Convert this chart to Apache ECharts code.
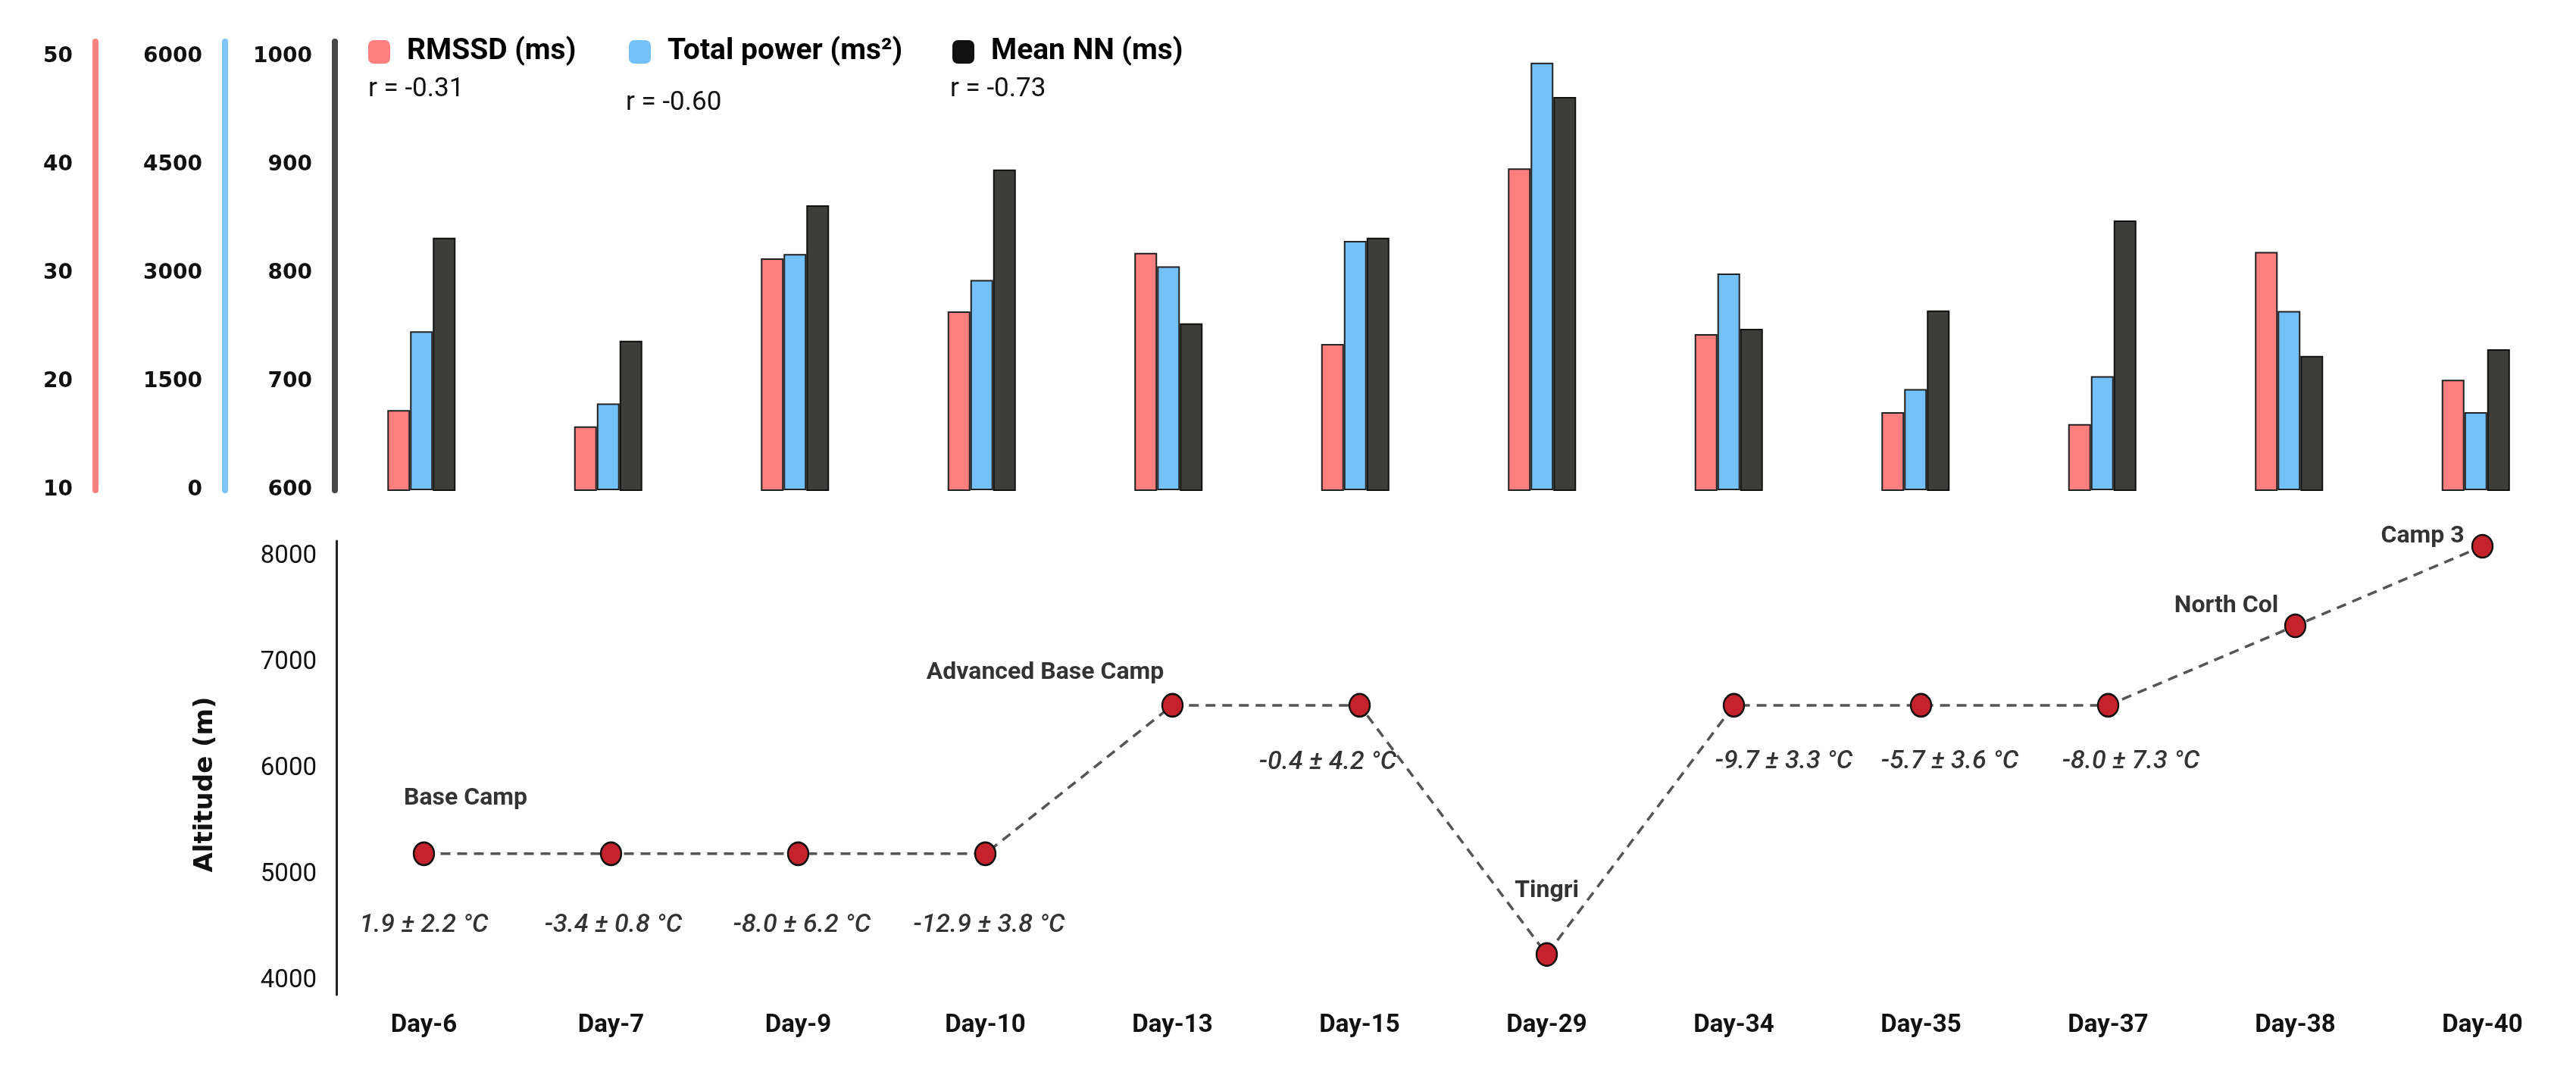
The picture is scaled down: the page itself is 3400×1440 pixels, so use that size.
<!DOCTYPE html>
<html>
<head>
<meta charset="utf-8">
<script src="https://cdn.jsdelivr.net/npm/echarts@6/dist/echarts.min.js"></script>
<style>
html,body{margin:0;padding:0;background:#fff;}
#c{width:3400px;height:1440px;}
</style>
</head>
<body>
<div id="c"></div>
<script>
// ---------- data ----------
const days = ['Day-6','Day-7','Day-9','Day-10','Day-13','Day-15','Day-29','Day-34','Day-35','Day-37','Day-38','Day-40'];
const rmssd = [17.4, 15.9, 31.4, 26.5, 31.9, 23.5, 39.7, 24.4, 17.2, 16.1, 32.0, 20.2];
const totalPower = [2200, 1200, 3270, 2910, 3100, 3450, 5920, 3000, 1400, 1580, 2480, 1080];
const meanNN = [833, 738, 863, 896, 754, 833, 963, 749, 766, 849, 724, 730];
const altitude = [5200, 5200, 5200, 5200, 6600, 6600, 4250, 6600, 6600, 6600, 7350, 8100];
const places = ['Base Camp','','','','Advanced Base Camp','','Tingri','','','','North Col','Camp 3'];
const temps = ['1.9 ± 2.2 °C','-3.4 ± 0.8 °C','-8.0 ± 6.2 °C','-12.9 ± 3.8 °C','','-0.4 ± 4.2 °C','','-9.7 ± 3.3 °C','-5.7 ± 3.6 °C','-8.0 ± 7.3 °C','',''];
const seriesNames = ['RMSSD (ms)','Total power (ms²)','Mean NN (ms)'];
const rLabels = ['r = -0.31','r = -0.60','r = -0.73'];
const rmssdTicks = [10, 20, 30, 40, 50];
const powerTicks = [0, 1500, 3000, 4500, 6000];
const nnTicks = [600, 700, 800, 900, 1000];
const altTicks = [4000, 5000, 6000, 7000, 8000];

// ---------- styling (layout only) ----------
const NARROW = 'Roboto,"Liberation Sans",sans-serif';
const placeOffsets = [[55,-73],[0,0],[0,0],[0,0],[-168,-43],[0,0],[0,-84],[0,0],[0,0],[0,0],[-91,-26],[-79,-13]];
const tempOffsets = [[0,95],[3,95],[5,95],[5,95],[0,0],[-42,76],[0,0],[66,75],[38,75],[30,75],[0,0],[0,0]];
const colors = ['#FF7F7F', '#74C0F8', '#3D3E39'];

const chart = echarts.init(document.getElementById('c'), null, {renderer:'canvas', width:3400, height:1440});

function valueAxis(gridIndex, offset, min, max, ticks, lineColor, lineWidth, font, extra) {
  return Object.assign({
    type:'value', gridIndex, position:'left', offset, min, max,
    axisLine:{show:true, onZero:false, lineStyle:{color:lineColor, width:lineWidth}},
    axisTick:{show:false},
    splitLine:{show:false},
    axisLabel:Object.assign({customValues:ticks, margin:30, color:'#111', formatter:v=>String(v)}, font)
  }, extra || {});
}
const topFont = {fontFamily:'"DejaVu Sans",sans-serif', fontSize:28, fontWeight:'bold'};
const botFont = {fontFamily:NARROW, fontSize:33, margin:26};

const legendBase = (left, idx) => ({
  left, top:49, padding:0, itemWidth:29, itemHeight:31, selectedMode:false,
  data:[{name:seriesNames[idx], itemStyle:{color: idx===2 ? '#111' : colors[idx], borderWidth:0}}],
  textStyle:{fontFamily:NARROW, fontSize:39, fontWeight:'bold', color:'#000', padding:[0,0,0,17]}
});

const rText = (x, y, t) => ({type:'text', x, y, style:{text:t, fontFamily:NARROW, fontSize:35, fill:'#111', verticalAlign:'middle'}});

const option = {
  backgroundColor:'#fff',
  animation:false,
  legend:[legendBase(486,0), legendBase(830,1), legendBase(1257,2)],
  graphic:[rText(486,118,rLabels[0]), rText(826,136,rLabels[1]), rText(1254,118,rLabels[2])],
  grid:[
    {left:433, top:55, width:2958, height:592},
    {left:436, top:714, width:2986, height:599}
  ],
  xAxis:[
    {type:'category', gridIndex:0, data:days, axisLine:{show:false}, axisTick:{show:false}, axisLabel:{show:false}},
    {type:'category', gridIndex:1, data:days, axisLine:{show:false}, axisTick:{show:false},
     axisLabel:{fontFamily:NARROW, fontSize:33, fontWeight:'bold', color:'#111', margin:24}}
  ],
  yAxis:[
    valueAxis(0, -9, 600, 1014, nnTicks, '#474747', 8, topFont),
    valueAxis(0, 136, 0, 6210, powerTicks, '#80C4FA', 8, topFont),
    valueAxis(0, 307, 10, 51.4, rmssdTicks, '#FF8282', 8, topFont),
    valueAxis(1, -8, 3870, 8150, altTicks, '#222', 3, botFont, {
      name:'Altitude (m)', nameLocation:'middle', nameGap:156,
      nameTextStyle:{fontFamily:'"DejaVu Sans",sans-serif', fontWeight:'bold', fontSize:34, color:'#111', padding:[0,44,0,0]}
    })
  ],
  series:[
    {name:seriesNames[0], type:'bar', xAxisIndex:0, yAxisIndex:2, data:rmssd, barWidth:30, barGap:'0%',
     itemStyle:{color:colors[0], borderColor:'#222', borderWidth:2}},
    {name:seriesNames[1], type:'bar', xAxisIndex:0, yAxisIndex:1, data:totalPower, barWidth:30, barGap:'0%',
     itemStyle:{color:colors[1], borderColor:'#222', borderWidth:2}},
    {name:seriesNames[2], type:'bar', xAxisIndex:0, yAxisIndex:0, data:meanNN, barWidth:30, barGap:'0%',
     itemStyle:{color:colors[2], borderColor:'#111', borderWidth:2}},
    {name:'Altitude', type:'line', xAxisIndex:1, yAxisIndex:3, data:altitude,
     symbol:'circle', symbolSize:[27,30],
     lineStyle:{color:'#555', width:3.5, type:[13,9]},
     itemStyle:{color:'#C4232B', borderColor:'#111', borderWidth:2.5}, z:3},
    {name:'places', type:'scatter', xAxisIndex:1, yAxisIndex:3, symbolSize:1, silent:true, z:5,
     itemStyle:{color:'rgba(0,0,0,0)'},
     data:altitude.map((v,i)=>({value:v, label:{show:places[i]!=='', offset:placeOffsets[i]}})),
     label:{position:'inside', align:'center', verticalAlign:'middle', formatter:p=>places[p.dataIndex],
            fontFamily:NARROW, fontSize:32, fontWeight:'bold', color:'#000'}},
    {name:'temps', type:'scatter', xAxisIndex:1, yAxisIndex:3, symbolSize:1, silent:true, z:5,
     itemStyle:{color:'rgba(0,0,0,0)'},
     data:altitude.map((v,i)=>({value:v, label:{show:temps[i]!=='', offset:tempOffsets[i]}})),
     label:{position:'inside', align:'center', verticalAlign:'middle', formatter:p=>temps[p.dataIndex],
            fontFamily:NARROW, fontSize:34, fontStyle:'italic', fontWeight:500, color:'#000'}}
  ]
};
chart.setOption(option);
</script>
</body>
</html>
